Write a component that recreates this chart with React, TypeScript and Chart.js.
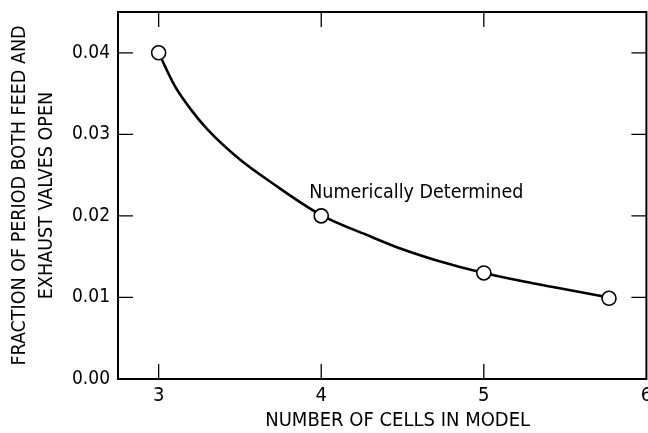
import React, { useEffect, useRef } from "react";
import { Chart, registerables } from "chart.js";

Chart.register(...registerables);

// Marked (numerically determined) points
const cells = [3, 4, 5, 5.77];
const fraction = [0.04, 0.02, 0.013, 0.0099];
// Smooth curve drawn through them
const curveCells = [3, 3.1, 3.2, 3.3, 3.5, 3.7, 4, 4.3, 4.5, 4.7, 5, 5.3, 5.5, 5.77];
const curveFraction = [0.04, 0.0359, 0.033, 0.0306, 0.0269, 0.024, 0.0201, 0.0175, 0.0159, 0.0146, 0.013, 0.01175, 0.011, 0.01];
const xTicks = [3, 4, 5, 6];
const yTicks = [0, 0.01, 0.02, 0.03, 0.04];
const xTitle = "NUMBER OF CELLS IN MODEL";
const xTitleCenter = 4.47;
const yTitle = ["FRACTION OF PERIOD BOTH FEED AND", "EXHAUST VALVES OPEN"];
const curveLabel = "Numerically Determined";
const curveLabelAt = { x: 3.926, y: 0.0228 };

const FONT = "'DejaVu Sans Condensed', 'Liberation Sans Narrow', sans-serif";

const framePlugin = {
  id: "frame",
  afterDatasetsDraw(chart: any) {
    const { ctx, chartArea, scales } = chart;
    const { left, right, top, bottom } = chartArea;
    const xs = scales.x;
    const ys = scales.y;
    const len = 15;
    ctx.save();
    ctx.strokeStyle = "#000";
    ctx.lineWidth = 2;
    ctx.strokeRect(left, top, right - left, bottom - top);
    ctx.lineWidth = 1.3;
    ctx.beginPath();
    for (const v of xTicks) {
      const px = xs.getPixelForValue(v);
      if (px <= left + 1 || px >= right - 1) continue;
      ctx.moveTo(px, bottom);
      ctx.lineTo(px, bottom - len);
      ctx.moveTo(px, top);
      ctx.lineTo(px, top + len);
    }
    for (const v of yTicks) {
      const py = ys.getPixelForValue(v);
      if (py >= bottom - 1 || py <= top + 1) continue;
      ctx.moveTo(left, py);
      ctx.lineTo(left + len, py);
      ctx.moveTo(right, py);
      ctx.lineTo(right - len, py);
    }
    ctx.stroke();
    ctx.fillStyle = "#000";
    ctx.font = "19.5px " + FONT;
    ctx.textBaseline = "middle";
    ctx.textAlign = "left";
    ctx.fillText(curveLabel, xs.getPixelForValue(curveLabelAt.x), ys.getPixelForValue(curveLabelAt.y));
    ctx.font = "20px " + FONT;
    ctx.textAlign = "center";
    ctx.fillText(xTitle, xs.getPixelForValue(xTitleCenter), xs.bottom - 12);
    ctx.restore();
  },
};

export default function App() {
  const ref = useRef<HTMLCanvasElement>(null);
  useEffect(() => {
    if (!ref.current) return;
    const chart = new Chart(ref.current, {
      type: "line",
      data: {
        datasets: [
          {
            data: cells.map((c, i) => ({ x: c, y: fraction[i] })),
            showLine: false,
            pointRadius: 7,
            pointBackgroundColor: "#fff",
            pointBorderColor: "#000",
            pointBorderWidth: 1.6,
          },
          {
            data: curveCells.map((c, i) => ({ x: c, y: curveFraction[i] })),
            borderColor: "#000",
            borderWidth: 2.6,
            cubicInterpolationMode: "monotone",
            pointRadius: 0,
            fill: false,
          },
        ],
      },
      options: {
        animation: false,
        responsive: false,
        events: [],
        layout: { padding: { top: 12, right: 0, left: 0, bottom: 0 } },
        plugins: { legend: { display: false }, tooltip: { enabled: false } },
        scales: {
          x: {
            type: "linear",
            min: 2.75,
            max: 6,
            grid: { display: false, drawTicks: false },
            border: { display: false },
            afterBuildTicks: (s: any) => {
              s.ticks = xTicks.map((v) => ({ value: v }));
            },
            afterFit: (s: any) => {
              s.height = 54;
              s.paddingLeft = 0;
              s.paddingRight = 0;
            },
            ticks: {
              color: "#000",
              font: { family: FONT, size: 20 },
              padding: 5,
              maxRotation: 0,
              callback: (v: any) => String(v),
            },
            title: { display: false },
          },
          y: {
            type: "linear",
            min: 0,
            max: 0.045,
            grid: { display: false, drawTicks: false },
            border: { display: false },
            afterBuildTicks: (s: any) => {
              s.ticks = yTicks.map((v) => ({ value: v }));
            },
            afterFit: (s: any) => {
              s.width = 118;
              s.paddingTop = 0;
              s.paddingBottom = 0;
            },
            ticks: {
              color: "#000",
              font: { family: FONT, size: 19 },
              padding: 8,
              callback: (v: any) => Number(v).toFixed(2),
            },
            title: {
              display: true,
              text: yTitle,
              color: "#000",
              font: { family: FONT, size: 19.5, lineHeight: 1.35 },
              padding: { top: 7, bottom: 0 },
            },
          },
        },
      },
      plugins: [framePlugin],
    } as any);
    return () => chart.destroy();
  }, []);
  return (
    <div style={{ position: "absolute", left: 0, top: 0, width: 648, height: 433, overflow: "hidden", background: "#fff" }}>
      <canvas ref={ref} width={655} height={433} style={{ display: "block" }} />
    </div>
  );
}
